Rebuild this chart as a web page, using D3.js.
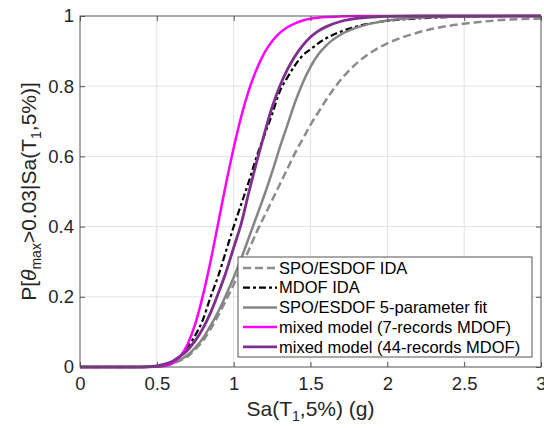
<!DOCTYPE html>
<html>
<head>
<meta charset="utf-8">
<script src="https://cdn.jsdelivr.net/npm/d3@7"></script>
<style>
    body { margin: 0; background: #fff; }
    text { font-family: "Liberation Sans", Arial, Helvetica, sans-serif; }
</style>
</head>
<body>
<script>
// Sa(T1,5%) grid (g) and probability of exceeding theta_max > 0.03 for each model
var saGrid = [0, 0.4, 0.5, 0.55, 0.6, 0.65, 0.7, 0.75, 0.8, 0.85, 0.9, 0.95, 1.0, 1.05, 1.1, 1.15, 1.2,
    1.25, 1.3, 1.35, 1.4, 1.45, 1.5, 1.55, 1.6, 1.7, 1.8, 1.9, 2.0, 2.2, 2.4, 2.6, 2.8, 3.0];

var spoIda = [0, 0, 0.001, 0.004, 0.009, 0.018, 0.03, 0.05, 0.075, 0.108, 0.147, 0.19, 0.235, 0.285, 0.335, 0.385, 0.43,
    0.475, 0.52, 0.565, 0.61, 0.65, 0.69, 0.725, 0.76, 0.82, 0.865, 0.898, 0.922, 0.953, 0.972, 0.983, 0.99, 0.993];

var mdofIda = [0, 0, 0.002, 0.006, 0.013, 0.03, 0.057, 0.09, 0.135, 0.2, 0.26, 0.33, 0.40, 0.465, 0.53, 0.6, 0.66,
    0.72, 0.785, 0.825, 0.86, 0.888, 0.905, 0.922, 0.936, 0.956, 0.97, 0.98, 0.986, 0.993, 0.997, 0.999, 1, 1];

var spoFit = [0, 0, 0.002, 0.005, 0.01, 0.02, 0.034, 0.055, 0.082, 0.118, 0.158, 0.205, 0.255, 0.31, 0.37, 0.43, 0.49,
    0.555, 0.625, 0.69, 0.755, 0.81, 0.855, 0.89, 0.915, 0.948, 0.967, 0.979, 0.987, 0.995, 0.998, 0.999, 1, 1];

var mixed7 = [0, 0, 0.001, 0.003, 0.011, 0.029, 0.065, 0.123, 0.204, 0.302, 0.412, 0.522, 0.624, 0.715, 0.79, 0.849, 0.895,
    0.928, 0.952, 0.968, 0.979, 0.987, 0.992, 0.995, 0.997, 0.999, 1, 1, 1, 1, 1, 1, 1, 1];

var mixed44 = [0, 0, 0.003, 0.008, 0.016, 0.03, 0.048, 0.075, 0.11, 0.155, 0.21, 0.27, 0.34, 0.41, 0.5, 0.585, 0.665,
    0.74, 0.8, 0.848, 0.886, 0.916, 0.94, 0.957, 0.969, 0.985, 0.993, 0.997, 0.999, 1, 1, 1, 1, 1];

var seriesNames = ["SPO/ESDOF IDA", "MDOF IDA", "SPO/ESDOF 5-parameter fit",
    "mixed model (7-records MDOF)", "mixed model (44-records MDOF)"];
var seriesValues = [spoIda, mdofIda, spoFit, mixed7, mixed44];

var xTicks = [0, 0.5, 1, 1.5, 2, 2.5, 3];
var yTicks = [0, 0.2, 0.4, 0.6, 0.8, 1];

var colors = ["#8c8c8c", "#000000", "#858585", "#ff00ff", "#7e2f8e"];
var dashes = ["8,4", "7,3,3,3", null, null, null];
var widths = [2.5, 2.2, 2.5, 2.5, 2.8];

// plot box (window.top is reserved, so no bare "top")
var pL = 80, pR = 541, pT = 16, pB = 367;

var svg = d3.select("body")
    .append("svg")
    .attr("width", 544)
    .attr("height", 428);

var xScale = d3.scaleLinear().domain([0, 3]).range([pL, pR]);
var yScale = d3.scaleLinear().domain([0, 1]).range([pB, pT]);

// grid
svg.append("g")
    .selectAll("line")
    .data(xTicks.slice(1, -1))
    .enter()
    .append("line")
    .attr("x1", function (d) { return xScale(d); })
    .attr("x2", function (d) { return xScale(d); })
    .attr("y1", pT)
    .attr("y2", pB)
    .attr("stroke", "#e3e3e3");

svg.append("g")
    .selectAll("line")
    .data(yTicks.slice(1, -1))
    .enter()
    .append("line")
    .attr("y1", function (d) { return yScale(d); })
    .attr("y2", function (d) { return yScale(d); })
    .attr("x1", pL)
    .attr("x2", pR)
    .attr("stroke", "#e3e3e3");

// curves
var line = d3.line()
    .x(function (d) { return xScale(d[0]); })
    .y(function (d) { return yScale(d[1]); })
    .curve(d3.curveMonotoneX);

seriesValues.forEach(function (vals, i) {
    svg.append("path")
        .datum(saGrid.map(function (s, j) { return [s, vals[j]]; }))
        .attr("d", line)
        .attr("fill", "none")
        .attr("stroke", colors[i])
        .attr("stroke-width", widths[i])
        .attr("stroke-dasharray", dashes[i]);
});

// axes, ticks inside like matlab
var fmt = function (d) { return String(d); };

svg.append("g")
    .attr("transform", "translate(0," + pB + ")")
    .call(d3.axisBottom(xScale).tickValues(xTicks).tickFormat(fmt).tickSize(-5).tickPadding(10));
svg.append("g")
    .attr("transform", "translate(0," + pT + ")")
    .call(d3.axisTop(xScale).tickValues(xTicks).tickFormat("").tickSize(-5));
svg.append("g")
    .attr("transform", "translate(" + pL + ",0)")
    .call(d3.axisLeft(yScale).tickValues(yTicks).tickFormat(fmt).tickSize(-5).tickPadding(6));
svg.append("g")
    .attr("transform", "translate(" + pR + ",0)")
    .call(d3.axisRight(yScale).tickValues(yTicks).tickFormat("").tickSize(-5));

svg.selectAll(".domain").remove();
svg.selectAll(".tick line").attr("stroke", "#555");
svg.selectAll(".tick text")
    .attr("fill", "#262626")
    .style("font-size", "18.5px");

svg.append("rect")
    .attr("x", pL)
    .attr("y", pT)
    .attr("width", pR - pL)
    .attr("height", pB - pT)
    .attr("fill", "none")
    .attr("stroke", "#555");

// axis labels
var xl = svg.append("text")
    .attr("x", (pL + pR) / 2)
    .attr("y", 416)
    .attr("text-anchor", "middle")
    .attr("fill", "#262626")
    .style("font-size", "21px");
xl.append("tspan").text("Sa(T");
xl.append("tspan").attr("dy", 5).style("font-size", "14px").text("1");
xl.append("tspan").attr("dy", -5).text(",5%) (g)");

var yl = svg.append("text")
    .attr("transform", "translate(36," + (pT + pB) / 2 + ") rotate(-90)")
    .attr("text-anchor", "middle")
    .attr("fill", "#262626")
    .style("font-size", "21px");
yl.append("tspan").text("P[");
yl.append("tspan").style("font-style", "italic").text("θ");
yl.append("tspan").attr("dy", 5).style("font-size", "14px").text("max");
yl.append("tspan").attr("dy", -5).text(">0.03|Sa(T");
yl.append("tspan").attr("dy", 5).style("font-size", "14px").text("1");
yl.append("tspan").attr("dy", -5).text(",5%)]");

// legend
var legend = svg.append("g");
legend.append("rect")
    .attr("x", 238)
    .attr("y", 257)
    .attr("width", 294)
    .attr("height", 100)
    .attr("fill", "#fff")
    .attr("stroke", "#555");

seriesNames.forEach(function (name, i) {
    var ly = 268 + i * 19.7;
    legend.append("line")
        .attr("x1", 243)
        .attr("x2", 277)
        .attr("y1", ly)
        .attr("y2", ly)
        .attr("stroke", colors[i])
        .attr("stroke-width", widths[i])
        .attr("stroke-dasharray", dashes[i]);
    legend.append("text")
        .attr("x", 279)
        .attr("y", ly)
        .attr("dy", "0.35em")
        .attr("fill", "#000")
        .style("font-size", "16.5px")
        .text(name);
});
</script>
</body>
</html>
